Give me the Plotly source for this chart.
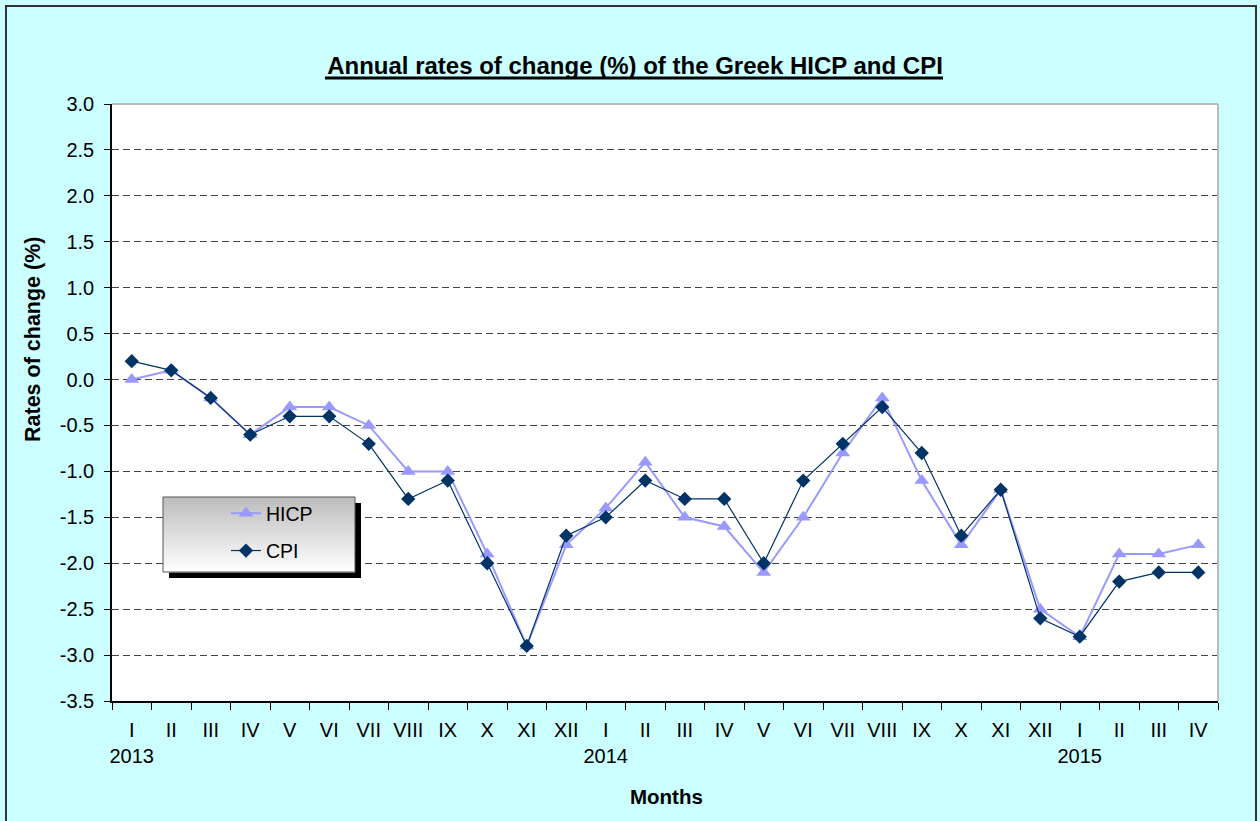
import plotly.graph_objects as go

# ---------------- data ----------------
months = ["I", "II", "III", "IV", "V", "VI", "VII", "VIII", "IX", "X", "XI", "XII",
          "I", "II", "III", "IV", "V", "VI", "VII", "VIII", "IX", "X", "XI", "XII",
          "I", "II", "III", "IV"]
years = ["2013"] * 12 + ["2014"] * 12 + ["2015"] * 4
hicp = [0.0, 0.1, -0.2, -0.6, -0.3, -0.3, -0.5, -1.0, -1.0, -1.9, -2.9, -1.8,
        -1.4, -0.9, -1.5, -1.6, -2.1, -1.5, -0.8, -0.2, -1.1, -1.8, -1.2, -2.5,
        -2.8, -1.9, -1.9, -1.8]
cpi = [0.2, 0.1, -0.2, -0.6, -0.4, -0.4, -0.7, -1.3, -1.1, -2.0, -2.9, -1.7,
       -1.5, -1.1, -1.3, -1.3, -2.0, -1.1, -0.7, -0.3, -0.8, -1.7, -1.2, -2.6,
       -2.8, -2.2, -2.1, -2.1]
y_tickvals = [3.0, 2.5, 2.0, 1.5, 1.0, 0.5, 0.0, -0.5, -1.0, -1.5, -2.0, -2.5, -3.0, -3.5]
y_ticktext = ["3.0", "2.5", "2.0", "1.5", "1.0", "0.5", "0.0", "-0.5", "-1.0", "-1.5",
              "-2.0", "-2.5", "-3.0", "-3.5"]

keys = [f"{y}-{m}" for y, m in zip(years, months)]
ticktext = []
for y, m in zip(years, months):
    ticktext.append(f"{m}<br>{y}" if m == "I" else m)

# ---------------- layout geometry (pixels) ----------------
W_PAGE, H_PAGE = 1260, 821
L, R, T, B = 112, 1218, 104, 701
PW, PH = R - L, B - T


def px(x):
    return (x - L) / PW


def py(y):
    return (B - y) / PH


FONT = "Liberation Sans, Arial, sans-serif"

fig = go.Figure()
fig.add_trace(go.Scatter(
    x=keys, y=hicp, name="HICP", mode="lines+markers", legendgroup="a",
    line=dict(color="#9999FF", width=2),
    marker=dict(symbol="triangle-up", size=13, color="#9999FF"),
))
fig.add_trace(go.Scatter(
    x=keys, y=cpi, name="CPI", mode="lines+markers", legendgroup="b",
    line=dict(color="#003366", width=1.2),
    marker=dict(symbol="diamond", size=11, color="#003366"),
))

shapes = []
# outer frame
shapes.append(dict(type="rect", xref="paper", yref="paper",
                   x0=px(6), x1=px(1256), y0=py(835), y1=py(6),
                   line=dict(color="#333333", width=2), fillcolor="rgba(0,0,0,0)", layer="above"))
# plot area top/right grey border
shapes.append(dict(type="line", xref="paper", yref="paper", x0=0, x1=1, y0=1, y1=1,
                   line=dict(color="#BBBBBB", width=2), layer="above"))
shapes.append(dict(type="line", xref="paper", yref="paper", x0=1, x1=1, y0=0, y1=1,
                   line=dict(color="#BBBBBB", width=2), layer="above"))
# title underline
shapes.append(dict(type="line", xref="paper", yref="paper", x0=px(325), x1=px(943),
                   y0=py(78), y1=py(78), line=dict(color="black", width=3), layer="above"))

# legend box: shadow, gradient, border
lx0, lx1, ly0, ly1 = 163, 355, 497, 572
shapes.append(dict(type="rect", xref="paper", yref="paper",
                   x0=px(lx0 + 6), x1=px(lx1 + 6), y0=py(ly1 + 6), y1=py(ly0 + 6),
                   line=dict(width=0), fillcolor="black", layer="above"))
n_strips = 25
for k in range(n_strips):
    t0 = ly0 + (ly1 - ly0) * k / n_strips
    t1 = ly0 + (ly1 - ly0) * (k + 1) / n_strips
    g = int(190 + (255 - 190) * (k / (n_strips - 1)))
    shapes.append(dict(type="rect", xref="paper", yref="paper",
                       x0=px(lx0), x1=px(lx1), y0=py(t1 + 0.5), y1=py(t0),
                       line=dict(width=0), fillcolor=f"rgb({g},{g},{g})", layer="above"))
shapes.append(dict(type="rect", xref="paper", yref="paper",
                   x0=px(lx0), x1=px(lx1), y0=py(ly1), y1=py(ly0),
                   line=dict(color="#555555", width=1), fillcolor="rgba(0,0,0,0)", layer="above"))

annotations = [
    dict(text="<b>Rates of change (%)</b>", xref="paper", yref="paper",
         x=px(33), y=py(340), textangle=-90, showarrow=False,
         font=dict(family=FONT, size=21.5, color="black"), xanchor="center", yanchor="middle"),
    dict(text="<b>Months</b>", xref="paper", yref="paper",
         x=px(666), y=py(796), showarrow=False,
         font=dict(family=FONT, size=20.5, color="black"), xanchor="center", yanchor="middle"),
]

fig.update_layout(
    width=W_PAGE, height=H_PAGE,
    margin=dict(l=L, r=W_PAGE - R, t=T, b=H_PAGE - B, pad=0),
    paper_bgcolor="#CCFFFF", plot_bgcolor="white",
    font=dict(family=FONT, size=20, color="black"),
    title=dict(text="<b>Annual rates of change (%) of the Greek HICP and CPI</b>",
               x=635 / W_PAGE, xanchor="center", y=1 - 66 / H_PAGE, yanchor="middle",
               font=dict(family=FONT, size=24, color="black")),
    showlegend=True,
    legend=dict(x=px(226), y=py(494), xanchor="left", yanchor="top",
                bgcolor="rgba(0,0,0,0)", borderwidth=0, tracegroupgap=9,
                font=dict(family=FONT, size=19.5, color="black")),
    shapes=shapes,
    annotations=annotations,
)

fig.update_xaxes(
    type="category", categoryorder="array", categoryarray=keys,
    tickmode="array", tickvals=keys, ticktext=ticktext, tickangle=0,
    tickson="boundaries", ticks="outside", ticklen=7, tickcolor="black", tickwidth=1,
    showline=True, linecolor="black", linewidth=1.5, showgrid=False,
    range=[-0.5, len(keys) - 0.5], ticklabelstandoff=10,
    tickfont=dict(family=FONT, size=20, color="black"),
)
fig.update_yaxes(
    range=[-3.5, 3.0], tickmode="array", tickvals=y_tickvals, ticktext=y_ticktext,
    ticks="outside", ticklen=6, tickcolor="black", tickwidth=1,
    showline=True, linecolor="black", linewidth=1.5,
    showgrid=True, gridcolor="#444444", gridwidth=1, griddash="7px,4px",
    zeroline=False, ticklabelstandoff=6,
    tickfont=dict(family=FONT, size=20, color="black"),
)

fig.write_html("out.html", config={"displayModeBar": False},
               post_script="document.body.style.margin='0px';")
